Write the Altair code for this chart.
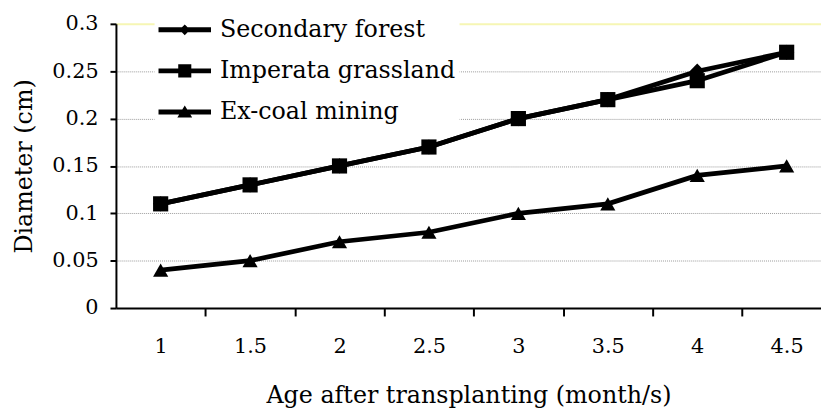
import altair as alt
import pandas as pd

# ---- data ----
ages = [1, 1.5, 2, 2.5, 3, 3.5, 4, 4.5]
series_names = ["Secondary forest", "Imperata grassland", "Ex-coal mining"]
secondary_forest = [0.11, 0.13, 0.15, 0.17, 0.20, 0.22, 0.25, 0.27]
imperata_grassland = [0.11, 0.13, 0.15, 0.17, 0.20, 0.22, 0.24, 0.27]
ex_coal_mining = [0.04, 0.05, 0.07, 0.08, 0.10, 0.11, 0.14, 0.15]
y_ticks = [0, 0.05, 0.1, 0.15, 0.2, 0.25, 0.3]
x_tick_marks = [1.25, 1.75, 2.25, 2.75, 3.25, 3.75, 4.25]

marker_shapes = ["diamond", "square", "triangle-up"]
# legend glyphs: line segment with the marker in its middle (unit = 15px)
legend_symbols = [
    "M-1,-0.167H2.533V0.167H-1Z M0.767,-0.36L1.127,0L0.767,0.36L0.407,0Z",
    "M-1,-0.167H2.533V0.167H-1Z M0.327,-0.44H1.207V0.44H0.327Z",
    "M-1,-0.167H2.533V0.167H-1Z M0.767,-0.44L1.267,0.38H0.267Z",
]

rows = []
for name, vals in zip(series_names, [secondary_forest, imperata_grassland, ex_coal_mining]):
    for a, v in zip(ages, vals):
        rows.append({"age": a, "value": v, "series": name, "marker": name})
df = pd.DataFrame(rows)

FONT = "DejaVu Serif"

x_scale = alt.Scale(domain=[0.75, 4.692], nice=False, zero=False)
y_scale = alt.Scale(domain=[0, 0.3], nice=False, zero=True)

y_axis = alt.Axis(
    values=y_ticks,
    format=".2~f",
    title="Diameter (cm)",
    titleFont=FONT,
    titleFontSize=24,
    titleFontWeight="normal",
    titleColor="black",
    titlePadding=16,
    labelFont=FONT,
    labelFontSize=21,
    labelColor="black",
    labelPadding=12,
    tickSize=6,
    tickWidth=2,
    tickColor="black",
    domainColor="black",
    domainWidth=2,
    grid=True,
    gridColor=alt.condition("datum.value >= 0.29", alt.value("#f6f6b4"), alt.value("#9a9a9a")),
    gridDash=alt.condition("datum.value >= 0.29", alt.value([1, 0]), alt.value([1, 1])),
    gridWidth=alt.condition("datum.value >= 0.29", alt.value(2), alt.value(1)),
)

x_axis_ticks = alt.Axis(
    values=x_tick_marks,
    labels=False,
    title=None,
    grid=False,
    orient="bottom",
    tickSize=8,
    tickWidth=2,
    tickColor="black",
    domainColor="black",
    domainWidth=2,
)

x_axis_labels = alt.Axis(
    values=ages,
    format="~g",
    ticks=False,
    domain=False,
    grid=False,
    orient="bottom",
    labelFont=FONT,
    labelFontSize=21,
    labelColor="black",
    labelPadding=28,
    title="Age after transplanting (month/s)",
    titleFont=FONT,
    titleFontSize=24,
    titleFontWeight="normal",
    titleColor="black",
    titlePadding=27,
)

base = alt.Chart(df)

lines = base.mark_line(color="black", strokeWidth=4.8).encode(
    x=alt.X("age:Q", scale=x_scale, axis=x_axis_ticks),
    y=alt.Y("value:Q", scale=y_scale, axis=y_axis),
    detail="series:N",
)

markers = base.mark_point(filled=True, color="black", opacity=1, size=235).encode(
    x=alt.X("age:Q", scale=x_scale, axis=x_axis_labels),
    y=alt.Y("value:Q", scale=y_scale),
    shape=alt.Shape(
        "marker:N",
        scale=alt.Scale(domain=series_names, range=marker_shapes),
        legend=None,
    ),
)

legend_layer = base.mark_point(filled=True, color="black", opacity=0).encode(
    x=alt.X("age:Q", scale=x_scale, axis=None),
    y=alt.Y("value:Q", scale=y_scale),
    shape=alt.Shape(
        "series:N",
        scale=alt.Scale(domain=series_names, range=legend_symbols),
        legend=alt.Legend(
            title=None,
            orient="none",
            legendX=39,
            legendY=-13,
            fillColor="white",
            padding=4,
            labelFont=FONT,
            labelFontSize=24,
            labelColor="black",
            labelOffset=32,
            labelLimit=500,
            symbolSize=900,
            symbolOpacity=1,
            symbolFillColor="black",
            symbolStrokeWidth=0,
            rowPadding=14.5,
        ),
    ),
)

chart = (
    alt.layer(lines, markers, legend_layer)
    .resolve_scale(shape="independent")
    .resolve_axis(x="independent")
    .properties(
        width=712,
        height=287,
        autosize=alt.AutoSizeParams(type="none"),
        padding={"left": 109, "top": 14, "right": 0, "bottom": 106},
        background="white",
    )
    .configure_view(stroke=None)
)

chart.save("out.html", embed_options={"renderer": "svg", "actions": False})
